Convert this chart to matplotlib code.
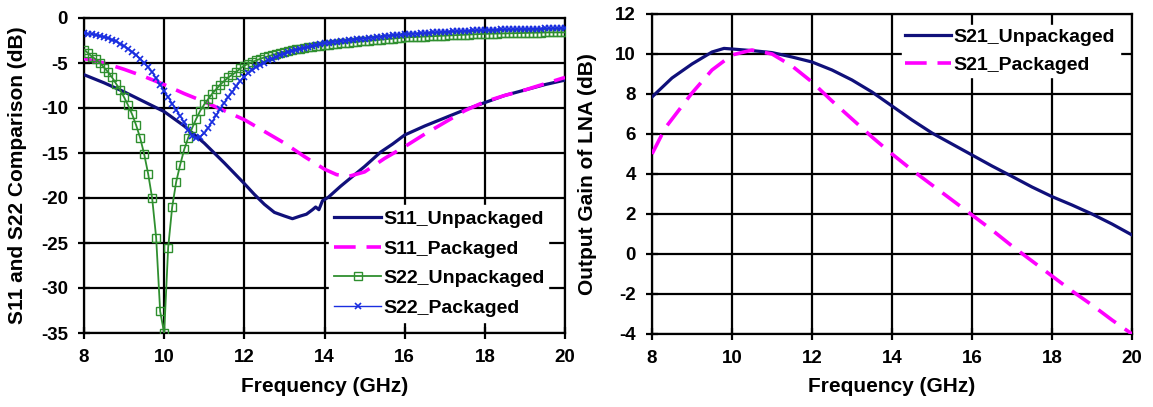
import numpy as np
import matplotlib
matplotlib.use("Agg")
import matplotlib.pyplot as plt

plt.rcParams['font.family'] = ['Liberation Sans', 'DejaVu Sans']
plt.rcParams['font.weight'] = 'bold'
plt.rcParams['axes.unicode_minus'] = False

# ---------------- S11 / S22 data ----------------
s11_unpk_f = [8, 8.5, 9, 9.5, 10, 10.5, 11, 11.5, 12, 12.25, 12.5, 12.75, 13.0, 13.2,
              13.4, 13.55, 13.7, 13.78, 13.86, 13.95, 14.1, 14.4, 14.7, 15.0, 15.4,
              15.7, 16, 16.5, 17, 17.5, 18, 18.5, 19, 19.5, 20]
s11_unpk = [-6.3, -7.2, -8.2, -9.3, -10.4, -12.0, -13.9, -16.1, -18.4, -19.6, -20.7,
            -21.6, -22.0, -22.3, -22.0, -21.8, -21.3, -21.0, -21.3, -20.3, -19.9, -18.7,
            -17.6, -16.5, -14.9, -14.0, -13.0, -12.0, -11.1, -10.2, -9.4, -8.6, -8.0,
            -7.4, -6.9]

s11_pk_f = [8, 8.5, 9, 9.5, 10, 10.5, 11, 11.5, 12, 12.5, 13, 13.5, 14, 14.3, 14.6,
            15, 15.5, 16, 16.5, 17, 17.5, 18, 18.5, 19, 19.5, 20]
s11_pk = [-4.5, -5.0, -5.7, -6.5, -7.4, -8.4, -9.3, -10.3, -11.3, -12.6, -13.9, -15.4,
          -16.8, -17.4, -17.6, -17.1, -15.6, -14.3, -12.9, -11.6, -10.3, -9.3, -8.6,
          -8.0, -7.3, -6.6]

s22_f = np.round(np.arange(8.0, 20.05, 0.1), 1)
s22_unpk = [
    -3.5, -3.9, -4.3, -4.6, -5.0, -5.5, -6.0, -6.6, -7.3, -8.0,
    -8.8, -9.7, -10.7, -11.9, -13.3, -15.1, -17.3, -20.0, -24.4, -32.6,
    -35.0, -25.5, -21.0, -18.2, -16.3, -14.6, -13.3, -12.2, -11.2, -10.3,
    -9.6, -9.0, -8.4, -7.9, -7.4, -7.0, -6.6, -6.3, -6.0, -5.6,
    -5.3, -5.08, -4.88, -4.7, -4.53, -4.38, -4.24, -4.11, -3.98, -3.86,
    -3.75, -3.66, -3.57, -3.49, -3.41, -3.34, -3.27, -3.2, -3.13, -3.06,
    -3.0, -2.95, -2.9, -2.85, -2.81, -2.77, -2.73, -2.69, -2.65, -2.61,
    -2.57, -2.53, -2.49, -2.45, -2.41, -2.37, -2.33, -2.29, -2.25, -2.2,
    -2.16, -2.14, -2.12, -2.1, -2.08, -2.06, -2.04, -2.02, -2.0, -1.98,
    -1.96, -1.94, -1.92, -1.9, -1.88, -1.86, -1.84, -1.82, -1.8, -1.78,
    -1.76, -1.75, -1.74, -1.73, -1.72, -1.71, -1.7, -1.69, -1.68, -1.67,
    -1.66, -1.65, -1.64, -1.63, -1.62, -1.61, -1.6, -1.6, -1.6, -1.6,
    -1.6]
s22_pk = [
    -1.7, -1.75, -1.8, -1.9, -2.0, -2.1, -2.25, -2.4, -2.6, -2.85,
    -3.1, -3.4, -3.75, -4.1, -4.5, -4.95, -5.45, -6.0, -6.7, -7.4,
    -8.1, -8.8, -9.5, -10.2, -10.9, -11.6, -12.4, -13.1, -13.3, -13.2,
    -12.8, -12.2, -11.5, -10.8, -10.1, -9.4, -8.8, -8.2, -7.6, -7.0,
    -6.5, -6.1, -5.75, -5.45, -5.2, -4.95, -4.7, -4.5, -4.3, -4.1,
    -3.95, -3.8, -3.65, -3.5, -3.4, -3.3, -3.2, -3.1, -3.0, -2.9,
    -2.8, -2.74, -2.68, -2.63, -2.58, -2.53, -2.48, -2.43, -2.38, -2.33,
    -2.28, -2.23, -2.18, -2.13, -2.08, -2.03, -1.98, -1.94, -1.9, -1.86,
    -1.82, -1.79, -1.76, -1.73, -1.7, -1.67, -1.64, -1.61, -1.58, -1.55,
    -1.52, -1.5, -1.48, -1.46, -1.44, -1.42, -1.4, -1.38, -1.36, -1.34,
    -1.32, -1.3, -1.29, -1.28, -1.27, -1.26, -1.25, -1.24, -1.23, -1.22,
    -1.21, -1.2, -1.19, -1.18, -1.17, -1.16, -1.15, -1.14, -1.13, -1.12,
    -1.11]

# ---------------- S21 data ----------------
s21_f = [8, 8.5, 9, 9.5, 9.8, 10, 10.5, 11, 11.5, 12, 12.5, 13, 13.5, 14, 14.5, 15,
         15.5, 16, 16.5, 17, 17.5, 18, 18.5, 19, 19.5, 20]
s21_unpk = [7.85, 8.8, 9.5, 10.1, 10.28, 10.25, 10.17, 10.07, 9.85, 9.6, 9.2, 8.7,
            8.1, 7.4, 6.7, 6.05, 5.5, 4.95, 4.4, 3.88, 3.35, 2.87, 2.45, 2.0, 1.5, 0.95]
s21_pk_f = [8, 8.33, 9, 9.5, 10, 10.5, 11, 11.5, 12, 12.5, 13, 13.5, 14, 14.5, 15,
            15.5, 16, 16.5, 17, 17.5, 18, 18.5, 19, 19.5, 20]
s21_pk = [5.0, 6.3, 8.05, 9.2, 9.95, 10.2, 10.0, 9.4, 8.6, 7.65, 6.75, 5.85, 5.0,
          4.2, 3.45, 2.7, 1.95, 1.2, 0.4, -0.35, -1.1, -1.85, -2.55, -3.3, -4.0]

freq_ticks = [8, 10, 12, 14, 16, 18, 20]
s_ticks = [0, -5, -10, -15, -20, -25, -30, -35]
gain_ticks = [12, 10, 8, 6, 4, 2, 0, -2, -4]

NAVY = '#10107a'
PINK = '#ff00ff'
GREEN = '#2f8f2f'
BLUE = '#1a2ee0'
DASH = (0, (6, 3))

W, H = 1153, 407
fig = plt.figure(figsize=(W / 100, H / 100), dpi=100)
axL = fig.add_axes([84 / W, 1 - 333 / H, 481 / W, 315 / H])
axR = fig.add_axes([652 / W, 1 - 334 / H, 480 / W, 320 / H])


def style_axes(ax):
    ax.grid(True, color='black', linewidth=1.6, zorder=0)
    ax.set_axisbelow(True)
    for sp in ax.spines.values():
        sp.set_linewidth(1.6)
        sp.set_color('black')
    ax.tick_params(direction='inout', length=9, width=1.6, labelsize=13.5)
    ax.tick_params(axis='y', pad=7)
    ax.tick_params(axis='x', pad=7)
    for lab in ax.get_xticklabels() + ax.get_yticklabels():
        lab.set_fontweight('bold')


# ---- left panel ----
axL.plot(s11_unpk_f, s11_unpk, color=NAVY, lw=2.3, label='S11_Unpackaged', zorder=3)
axL.plot(s11_pk_f, s11_pk, color=PINK, lw=2.6, linestyle=DASH, label='S11_Packaged', zorder=3)
axL.plot(s22_f, s22_unpk, color=GREEN, lw=1.3, marker='s', ms=5.5, mfc='none',
         mec=GREEN, mew=1.0, label='S22_Unpackaged', zorder=3)
axL.plot(s22_f, s22_pk, color=BLUE, lw=1.0, marker='x', ms=4.5, mec=BLUE, mew=1.2,
         label='S22_Packaged', zorder=3)
axL.set_xlim(8, 20)
axL.set_ylim(-35, 0)
axL.set_xticks(freq_ticks)
axL.set_yticks(s_ticks)
style_axes(axL)
axL.set_xlabel('Frequency (GHz)', fontsize=15, fontweight='bold')
axL.set_ylabel('S11 and S22 Comparison (dB)', fontsize=15, fontweight='bold')
axL.xaxis.set_label_coords(0.5, -0.14)
axL.yaxis.set_label_coords(-0.118, 0.5)
legL = axL.legend(loc='lower left', bbox_to_anchor=(0.49, 0.005, 0.495, 0.415),
                  mode='expand', frameon=True, fancybox=False, edgecolor='white',
                  framealpha=1.0, borderpad=0.25, handlelength=2.4, handletextpad=0.1,
                  labelspacing=0.62, numpoints=1, prop={'size': 14, 'weight': 'bold'})
legL.set_zorder(5)

# ---- right panel ----
axR.plot(s21_f, s21_unpk, color=NAVY, lw=2.3, label='S21_Unpackaged', zorder=3)
axR.plot(s21_pk_f, s21_pk, color=PINK, lw=2.6, linestyle=DASH, label='S21_Packaged', zorder=3)
axR.set_xlim(8, 20)
axR.set_ylim(-4, 12)
axR.set_xticks(freq_ticks)
axR.set_yticks(gain_ticks)
style_axes(axR)
axR.set_xlabel('Frequency (GHz)', fontsize=15, fontweight='bold')
axR.set_ylabel('Output Gain of LNA (dB)', fontsize=15, fontweight='bold')
axR.xaxis.set_label_coords(0.5, -0.135)
axR.yaxis.set_label_coords(-0.115, 0.5)
legR = axR.legend(loc='upper left', bbox_to_anchor=(0.5, 0.785, 0.495, 0.21),
                  mode='expand', frameon=True, fancybox=False, edgecolor='white',
                  framealpha=1.0, borderpad=0.15, handlelength=2.4, handletextpad=0.1,
                  labelspacing=0.55, prop={'size': 14, 'weight': 'bold'})
legR.set_zorder(5)

fig.savefig('out.png', dpi=100, facecolor='white')
